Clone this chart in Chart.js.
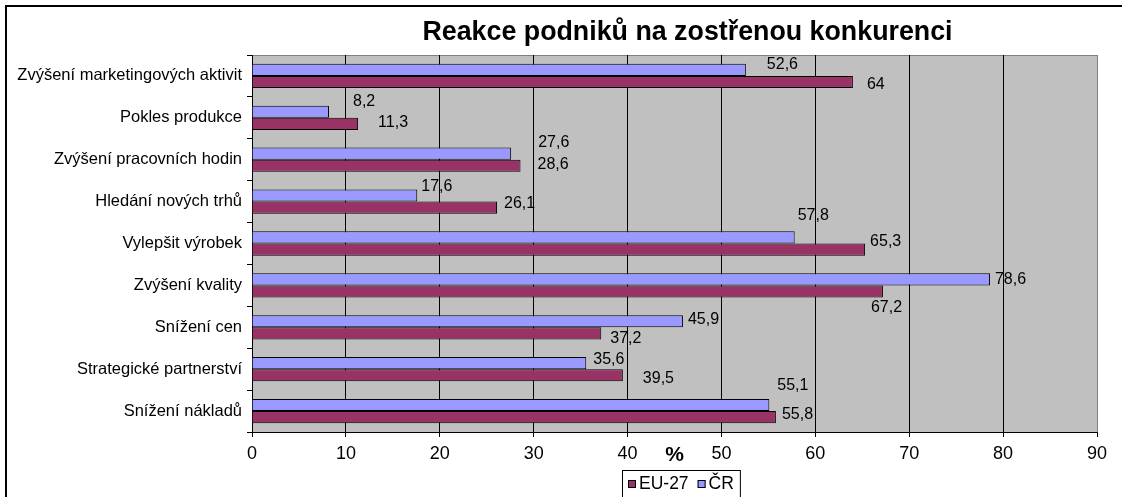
<!DOCTYPE html>
<html>
<head>
<meta charset="utf-8">
<script src="https://cdn.jsdelivr.net/npm/chart.js@4.4.0/dist/chart.umd.min.js"></script>
<style>
  html, body { margin: 0; padding: 0; background: #fff; }
  canvas { display: block; }
</style>
</head>
<body>
<canvas id="chart" width="1122" height="497"></canvas>
<script>
const titleText = 'Reakce podniků na zostřenou konkurenci';

const categories = [
  'Zvýšení marketingových aktivit',
  'Pokles produkce',
  'Zvýšení pracovních hodin',
  'Hledání nových trhů',
  'Vylepšit výrobek',
  'Zvýšení kvality',
  'Snížení cen',
  'Strategické partnerství',
  'Snížení nákladů',
];

const crValues = [52.6, 8.2, 27.6, 17.6, 57.8, 78.6, 45.9, 35.6, 55.1];
const euValues = [64, 11.3, 28.6, 26.1, 65.3, 67.2, 37.2, 39.5, 55.8];

const xTicks = [0, 10, 20, 30, 40, 50, 60, 70, 80, 90];

// label nudges (px) from the bar end, as placed in the original
const crLabelDx = [21, 24, 27, 4, 3, 5, 5, 7, 8];
const crLabelDy = [-5.5, -10, -11.5, -8.5, -21.5, 0, -1.5, -3.5, -19.5];
const euLabelDx = [14, 20, 17, 7, 5, -12, 9, 20, 6];
const euLabelDy = [2.5, -1, -1.5, -4.5, -8, 16.5, 5.5, 3.5, -2.5];

const FONT = "'Liberation Sans', Arial, sans-serif";
Chart.defaults.font.family = FONT;
Chart.defaults.color = '#000';

const fmt = v => String(v).replace('.', ',');

const frame = {
  id: 'frame',
  beforeDraw(chart) {
    const { ctx, chartArea: a } = chart;
    ctx.save();
    ctx.fillStyle = '#c0c0c0';
    ctx.fillRect(a.left, a.top, a.right - a.left, a.bottom - a.top);
    ctx.strokeStyle = '#808080';
    ctx.lineWidth = 1;
    ctx.beginPath();
    ctx.moveTo(a.left, a.top + 0.5);
    ctx.lineTo(a.right + 0.5, a.top + 0.5);
    ctx.lineTo(a.right + 0.5, a.bottom);
    ctx.stroke();
    // outer chart border
    ctx.strokeStyle = '#000';
    ctx.lineWidth = 2;
    ctx.strokeRect(6, 6, chart.width + 10, chart.height + 10);
    ctx.restore();
  },
  afterDraw(chart) {
    const { ctx, chartArea: a } = chart;
    const mid = (a.left + a.right) / 2;
    ctx.save();
    ctx.fillStyle = '#000';
    ctx.textBaseline = 'alphabetic';
    ctx.textAlign = 'center';
    ctx.font = 'bold 26.8px ' + FONT;
    ctx.fillText(titleText, mid + 13, 40);

    ctx.font = 'bold 21px ' + FONT;
    ctx.textBaseline = 'middle';
    ctx.fillText('%', mid, a.bottom + 23);

    // legend: EU-27 first, then ČR
    const items = [chart.data.datasets[1], chart.data.datasets[0]];
    ctx.font = '17.5px ' + FONT;
    ctx.textAlign = 'left';
    const sq = 8, gap = 3, between = 9, pad = 6;
    let w = pad * 2 - between;
    items.forEach(d => { w += sq + gap + ctx.measureText(d.label).width + between; });
    const boxLeft = Math.round(mid + 6 - w / 2);
    const boxTop = 470;
    ctx.strokeStyle = '#000';
    ctx.lineWidth = 1;
    ctx.strokeRect(boxLeft + 0.5, boxTop + 0.5, w, 40);
    let x = boxLeft + pad;
    const cy = 484;
    items.forEach(d => {
      ctx.fillStyle = d.backgroundColor;
      ctx.fillRect(x, cy - 4, sq, sq);
      ctx.strokeRect(x + 0.5, cy - 3.5, sq - 1, sq - 1);
      x += sq + gap;
      ctx.fillStyle = '#000';
      ctx.fillText(d.label, x, cy);
      x += ctx.measureText(d.label).width + between;
    });
    ctx.restore();
  },
};

const valueLabels = {
  id: 'valueLabels',
  afterDatasetsDraw(chart) {
    const { ctx } = chart;
    const offsets = [[crLabelDx, crLabelDy], [euLabelDx, euLabelDy]];
    ctx.save();
    ctx.font = '16px ' + FONT;
    ctx.fillStyle = '#000';
    ctx.textAlign = 'left';
    ctx.textBaseline = 'middle';
    chart.data.datasets.forEach((ds, i) => {
      const meta = chart.getDatasetMeta(i);
      meta.data.forEach((bar, j) => {
        ctx.fillText(fmt(ds.data[j]), bar.x + offsets[i][0][j], bar.y + offsets[i][1][j]);
      });
    });
    ctx.restore();
  },
};

new Chart(document.getElementById('chart'), {
  type: 'bar',
  data: {
    labels: categories,
    datasets: [
      {
        label: 'ČR',
        data: crValues,
        backgroundColor: '#9999ff',
        borderColor: '#000',
        borderWidth: 1,
      },
      {
        label: 'EU-27',
        data: euValues,
        backgroundColor: '#993366',
        borderColor: '#000',
        borderWidth: 1,
      },
    ],
  },
  options: {
    indexAxis: 'y',
    responsive: false,
    animation: false,
    events: [],
    categoryPercentage: 0.58,
    barPercentage: 1,
    layout: { padding: { left: 0, top: 55, right: 25, bottom: 25 } },
    plugins: {
      legend: { display: false },
      title: { display: false },
      tooltip: { enabled: false },
    },
    scales: {
      x: {
        min: xTicks[0],
        max: xTicks[xTicks.length - 1],
        afterBuildTicks: s => { s.ticks = xTicks.map(v => ({ value: v })); },
        afterFit: s => { s.height = 40; },
        grid: {
          color: c => (c.tick && c.tick.value === 90 ? '#808080' : '#000'),
          tickColor: '#000',
          tickLength: 5,
          lineWidth: 1,
        },
        border: { color: '#000' },
        ticks: { font: { size: 18 }, padding: 6, maxRotation: 0 },
      },
      y: {
        afterFit: s => { s.width = 252; },
        grid: {
          drawOnChartArea: false,
          tickColor: '#000',
          tickLength: 5,
        },
        border: { color: '#000' },
        ticks: { font: { size: 16.5 }, padding: 5 },
      },
    },
  },
  plugins: [frame, valueLabels],
});
</script>
</body>
</html>
